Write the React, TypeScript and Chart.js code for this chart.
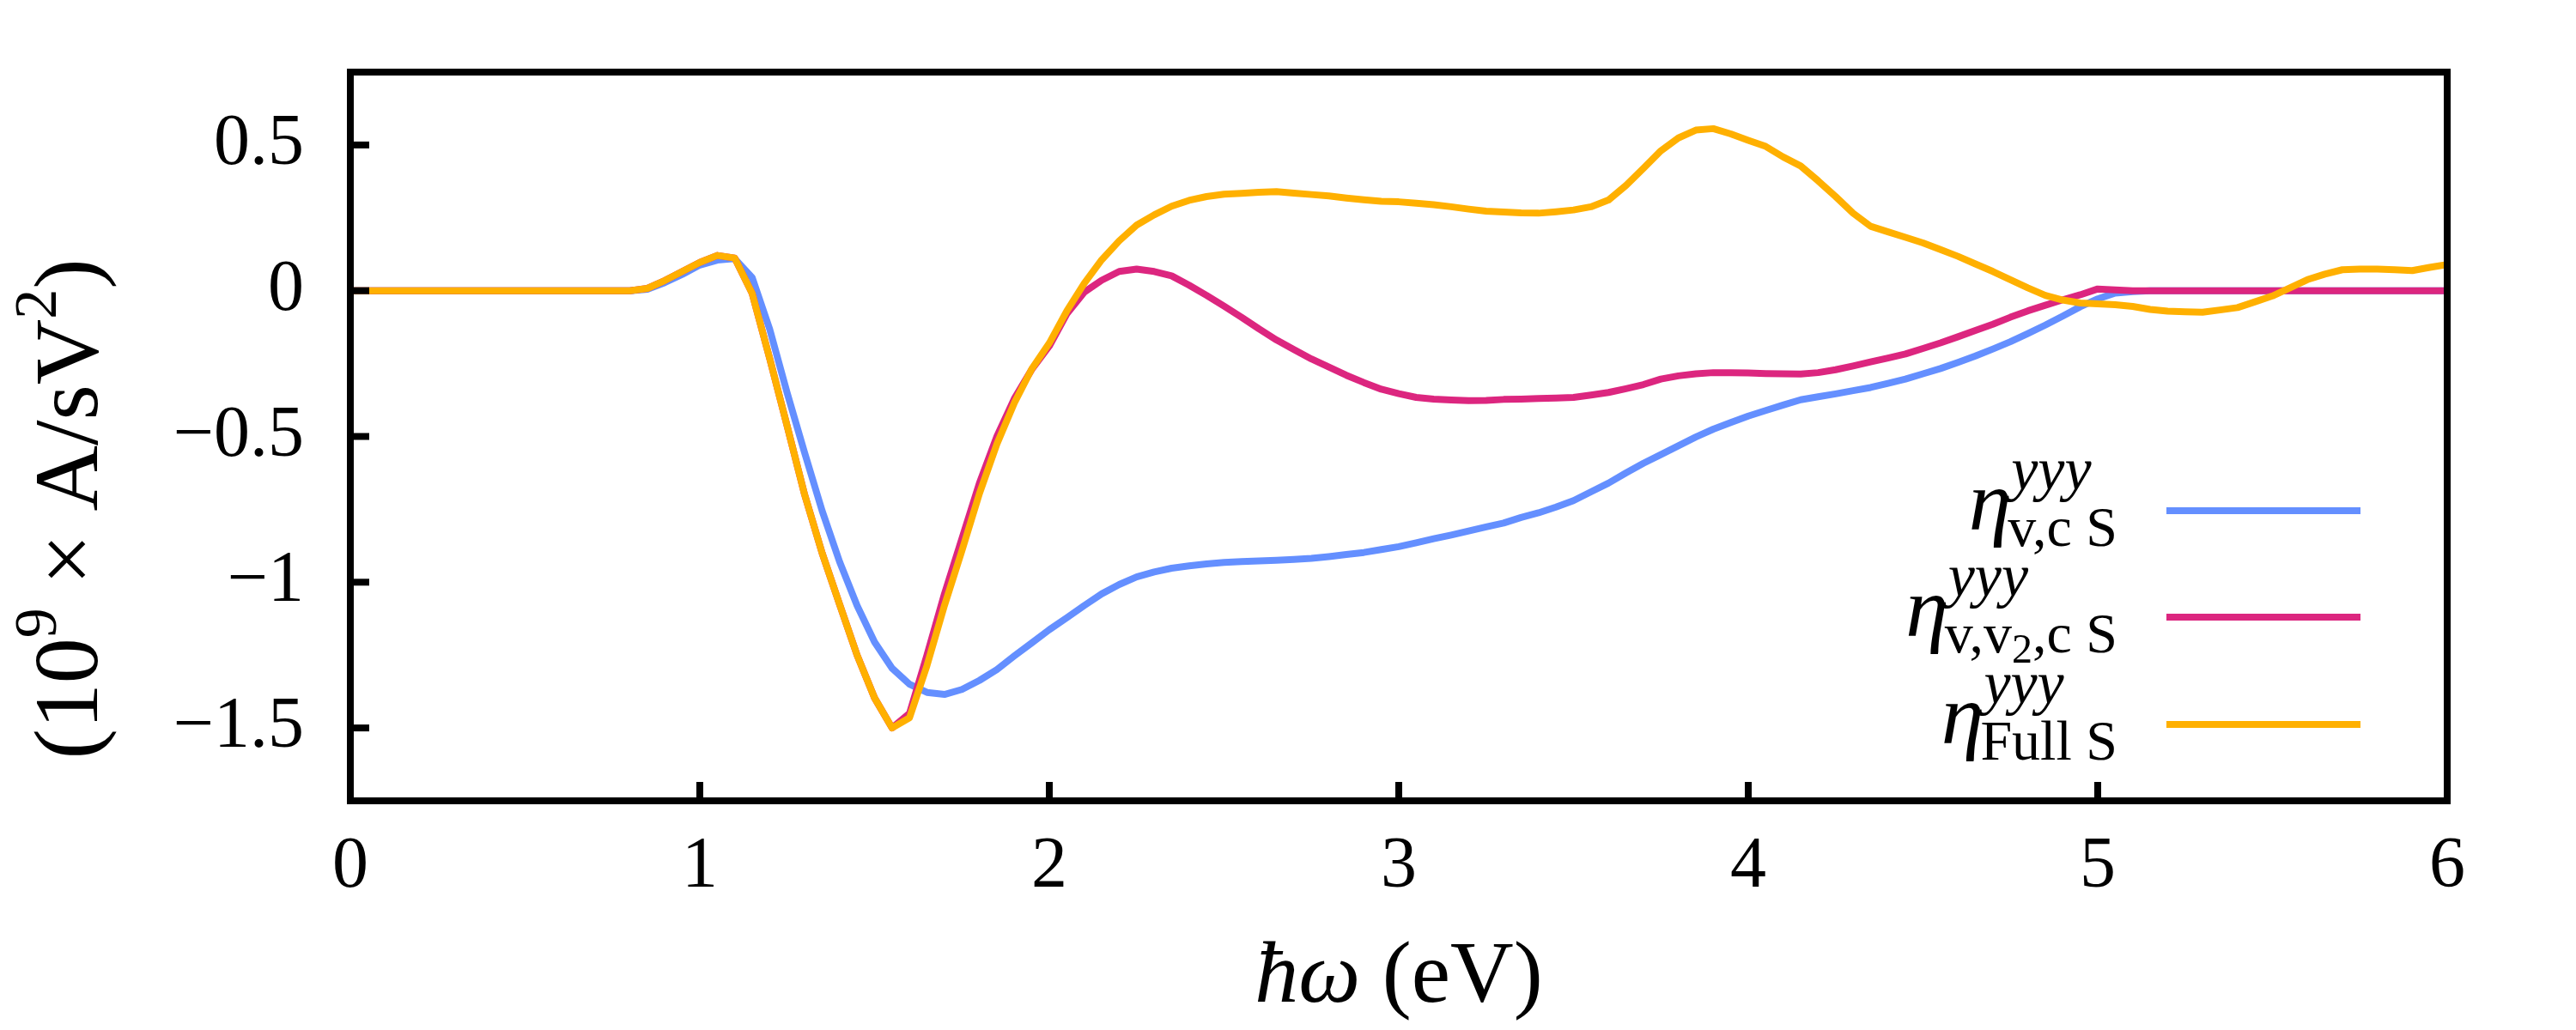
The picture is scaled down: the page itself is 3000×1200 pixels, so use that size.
import { useEffect, useRef } from "react";
import { Chart, registerables } from "chart.js";

Chart.register(...registerables);

const FONT = '"Liberation Serif", "DejaVu Serif", serif';

// photon energy (eV)
const energies = [
  0, 0.05, 0.1, 0.15, 0.2, 0.25, 0.3, 0.35, 0.4, 0.45,
  0.5, 0.55, 0.6, 0.65, 0.7, 0.75, 0.8, 0.85, 0.9, 0.95,
  1, 1.05, 1.1, 1.15, 1.2, 1.25, 1.3, 1.35, 1.4, 1.45,
  1.5, 1.55, 1.6, 1.65, 1.7, 1.75, 1.8, 1.85, 1.9, 1.95,
  2, 2.05, 2.1, 2.15, 2.2, 2.25, 2.3, 2.35, 2.4, 2.45,
  2.5, 2.55, 2.6, 2.65, 2.7, 2.75, 2.8, 2.85, 2.9, 2.95,
  3, 3.05, 3.1, 3.15, 3.2, 3.25, 3.3, 3.35, 3.4, 3.45,
  3.5, 3.55, 3.6, 3.65, 3.7, 3.75, 3.8, 3.85, 3.9, 3.95,
  4, 4.05, 4.1, 4.15, 4.2, 4.25, 4.3, 4.35, 4.4, 4.45,
  4.5, 4.55, 4.6, 4.65, 4.7, 4.75, 4.8, 4.85, 4.9, 4.95,
  5, 5.05, 5.1, 5.15, 5.2, 5.25, 5.3, 5.35, 5.4, 5.45,
  5.5, 5.55, 5.6, 5.65, 5.7, 5.75, 5.8, 5.85, 5.9, 5.95,
  6,
];

// eta^yyy_{v,c S}
const etaVC = [
  0, 0, 0, 0, 0, 0, 0, 0, 0, 0,
  0, 0, 0, 0, 0, 0, 0, 0.005, 0.028, 0.056,
  0.088, 0.105, 0.11, 0.045, -0.132, -0.351, -0.556, -0.755, -0.93, -1.08,
  -1.205, -1.295, -1.35, -1.378, -1.385, -1.368, -1.337, -1.3, -1.253, -1.208,
  -1.163, -1.122, -1.08, -1.04, -1.008, -0.982, -0.965, -0.952, -0.944, -0.937,
  -0.932, -0.929, -0.927, -0.925, -0.922, -0.918, -0.912, -0.905, -0.898, -0.888,
  -0.878, -0.865, -0.851, -0.838, -0.824, -0.81, -0.797, -0.778, -0.762, -0.742,
  -0.72, -0.69, -0.66, -0.625, -0.592, -0.562, -0.532, -0.502, -0.475, -0.452,
  -0.43, -0.411, -0.392, -0.374, -0.364, -0.354, -0.343, -0.332, -0.318, -0.303,
  -0.285, -0.267, -0.246, -0.224, -0.2, -0.175, -0.147, -0.118, -0.087, -0.055,
  -0.028, -0.008, -0.003, 0, 0, 0, 0, 0, 0, 0,
  0, 0, 0, 0, 0, 0, 0, 0, 0, 0,
  0,
];

// eta^yyy_{v,v2,c S}
const etaVV2C = [
  0, 0, 0, 0, 0, 0, 0, 0, 0, 0,
  0, 0, 0, 0, 0, 0, 0, 0.008, 0.035, 0.066,
  0.097, 0.121, 0.112, -0.01, -0.233, -0.465, -0.7, -0.9, -1.076, -1.25,
  -1.397, -1.5, -1.45, -1.25, -1.04, -0.85, -0.66, -0.5, -0.37, -0.27,
  -0.19, -0.08, -0.005, 0.036, 0.066, 0.074, 0.066, 0.051, 0.019, -0.016,
  -0.053, -0.091, -0.131, -0.169, -0.202, -0.234, -0.262, -0.29, -0.315, -0.338,
  -0.353, -0.366, -0.372, -0.375, -0.377, -0.376, -0.373, -0.372, -0.37, -0.368,
  -0.366, -0.358, -0.349, -0.336, -0.322, -0.303, -0.292, -0.285, -0.281, -0.281,
  -0.282, -0.284, -0.285, -0.286, -0.281, -0.271, -0.258, -0.244, -0.231, -0.217,
  -0.198, -0.179, -0.158, -0.136, -0.115, -0.091, -0.069, -0.05, -0.031, -0.014,
  0.006, 0.003, 0, 0, 0, 0, 0, 0, 0, 0,
  0, 0, 0, 0, 0, 0, 0, 0, 0, 0,
  0,
];

// eta^yyy_{Full S}
const etaFull = [
  0, 0, 0, 0, 0, 0, 0, 0, 0, 0,
  0, 0, 0, 0, 0, 0, 0, 0.008, 0.035, 0.066,
  0.097, 0.121, 0.112, -0.01, -0.233, -0.465, -0.7, -0.9, -1.076, -1.25,
  -1.397, -1.5, -1.465, -1.286, -1.08, -0.892, -0.696, -0.526, -0.385, -0.268,
  -0.18, -0.07, 0.025, 0.106, 0.171, 0.225, 0.26, 0.29, 0.31, 0.323,
  0.331, 0.334, 0.338, 0.34, 0.335, 0.33, 0.325, 0.318, 0.312, 0.307,
  0.305, 0.3, 0.295, 0.288, 0.28, 0.273, 0.27, 0.267, 0.266, 0.271,
  0.277, 0.288, 0.311, 0.361, 0.42, 0.48, 0.524, 0.551, 0.556, 0.538,
  0.516, 0.495, 0.459, 0.428, 0.377, 0.323, 0.266, 0.221, 0.202, 0.183,
  0.164, 0.141, 0.118, 0.092, 0.066, 0.038, 0.01, -0.016, -0.032, -0.042,
  -0.045, -0.048, -0.054, -0.064, -0.07, -0.072, -0.074, -0.066, -0.058, -0.038,
  -0.018, 0.01, 0.038, 0.057, 0.072, 0.074, 0.074, 0.072, 0.069, 0.08,
  0.09,
];

const xTicks = [0, 1, 2, 3, 4, 5, 6];
const yTicks = [-1.5, -1, -0.5, 0, 0.5];

const colors = ["#648FFF", "#DC267F", "#FFB000"];

type Seg = { text: string; font: string; dy?: number };

// legend: subscript pieces per series
const legendSubs: Seg[][] = [
  [{ text: "v,c S", font: `66px ${FONT}` }],
  [
    { text: "v,v", font: `66px ${FONT}` },
    { text: "2", font: `48px ${FONT}`, dy: 12 },
    { text: ",c S", font: `66px ${FONT}` },
  ],
  [{ text: "Full S", font: `66px ${FONT}` }],
];

function segWidth(ctx: CanvasRenderingContext2D, segs: Seg[]) {
  let w = 0;
  for (const s of segs) {
    ctx.font = s.font;
    w += ctx.measureText(s.text).width;
  }
  return w;
}

function drawSegs(ctx: CanvasRenderingContext2D, segs: Seg[], x: number, y: number) {
  let cx = x;
  ctx.textAlign = "left";
  for (const s of segs) {
    ctx.font = s.font;
    ctx.fillText(s.text, cx, y + (s.dy || 0));
    cx += ctx.measureText(s.text).width;
  }
}

const framePlugin = {
  id: "frame",
  afterDatasetsDraw(chart: any) {
    const { ctx, chartArea, scales } = chart;
    const { left, right, top, bottom } = chartArea;
    ctx.save();
    ctx.strokeStyle = "#000";
    ctx.fillStyle = "#000";
    ctx.lineWidth = 8;
    ctx.lineCap = "butt";

    // inward ticks
    yTicks.forEach((v) => {
      const py = scales.y.getPixelForValue(v);
      ctx.beginPath();
      ctx.moveTo(left, py);
      ctx.lineTo(left + 22, py);
      ctx.stroke();
    });
    xTicks.forEach((v) => {
      const px = scales.x.getPixelForValue(v);
      ctx.beginPath();
      ctx.moveTo(px, bottom);
      ctx.lineTo(px, bottom - 22);
      ctx.stroke();
    });
    ctx.lineJoin = "miter";
    ctx.strokeRect(left, top, right - left, bottom - top);

    // legend
    const rowOffsets = [338, 214, 89];
    const textRight = right - 384;
    ctx.textBaseline = "alphabetic";
    rowOffsets.forEach((off, i) => {
      const ly = bottom - off;
      ctx.strokeStyle = colors[i];
      ctx.beginPath();
      ctx.moveTo(right - 327, ly);
      ctx.lineTo(right - 101, ly);
      ctx.stroke();

      const sup: Seg[] = [{ text: "yyy", font: `italic 70px ${FONT}` }];
      const sub = legendSubs[i];
      const w = Math.max(segWidth(ctx, sup), segWidth(ctx, sub));
      const sx = textRight - w;
      ctx.fillStyle = "#000";
      ctx.font = `italic 100px ${FONT}`;
      ctx.textAlign = "right";
      ctx.fillText("η", sx + 4, ly + 22);
      drawSegs(ctx, sup, sx + 4, ly - 25);
      drawSegs(ctx, sub, sx, ly + 41);
    });

    // axis titles
    ctx.fillStyle = "#000";
    const xTitle: Seg[] = [
      { text: "ħω", font: `italic 102px ${FONT}` },
      { text: " (eV)", font: `102px ${FONT}` },
    ];
    const xw = segWidth(ctx, xTitle);
    ctx.textBaseline = "alphabetic";
    drawSegs(ctx, xTitle, (left + right) / 2 - xw / 2, 1167);

    const yTitle: Seg[] = [
      { text: "(10", font: `106px ${FONT}` },
      { text: "9", font: `70px ${FONT}`, dy: -48 },
      { text: " × A/sV", font: `106px ${FONT}` },
      { text: "2", font: `70px ${FONT}`, dy: -48 },
      { text: ")", font: `106px ${FONT}` },
    ];
    const yw = segWidth(ctx, yTitle);
    ctx.translate(113, 593);
    ctx.rotate(-Math.PI / 2);
    drawSegs(ctx, yTitle, -yw / 2, 0);
    ctx.restore();
  },
};

export default function App() {
  const canvasRef = useRef<HTMLCanvasElement>(null);
  const chartRef = useRef<Chart | null>(null);

  useEffect(() => {
    document.body.style.margin = "0";
    if (!canvasRef.current) return;
    if (chartRef.current) chartRef.current.destroy();

    const series = [etaVC, etaVV2C, etaFull];
    chartRef.current = new Chart(canvasRef.current, {
      type: "line",
      data: {
        datasets: series.map((vals, i) => ({
          label: ["vc", "vv2c", "full"][i],
          data: energies.map((x, j) => ({ x, y: vals[j] })),
          borderColor: colors[i],
          borderWidth: 8,
          pointRadius: 0,
          tension: 0,
          borderJoinStyle: "round" as const,
          fill: false,
          order: 2 - i, // orange on top, blue at the back
        })),
      },
      options: {
        animation: false,
        responsive: true,
        maintainAspectRatio: false,
        devicePixelRatio: 1,
        layout: { padding: { top: 84, right: 150, left: 0, bottom: 0 } },
        plugins: {
          legend: { display: false },
          tooltip: { enabled: false },
        },
        scales: {
          x: {
            type: "linear",
            min: 0,
            max: 6,
            grid: { display: false, drawTicks: false },
            border: { display: false },
            afterBuildTicks: (scale: any) => {
              scale.ticks = xTicks.map((v) => ({ value: v }));
            },
            afterFit: (scale: any) => {
              scale.height = 267;
              scale.paddingLeft = 0;
              scale.paddingRight = 0;
            },
            ticks: {
              padding: 28,
              color: "#000",
              font: { family: FONT, size: 84 },
              maxRotation: 0,
              callback: (v: any) => String(v),
            },
          },
          y: {
            type: "linear",
            min: -1.75,
            max: 0.75,
            grid: { display: false, drawTicks: false },
            border: { display: false },
            afterBuildTicks: (scale: any) => {
              scale.ticks = yTicks.map((v) => ({ value: v }));
            },
            afterFit: (scale: any) => {
              // the plot box is fixed; drop the label overhang padding
              scale.width = 408;
              scale.paddingTop = 0;
              scale.paddingBottom = 0;
            },
            ticks: {
              padding: 54,
              color: "#000",
              font: { family: FONT, size: 84 },
              callback: (v: any) => String(v).replace("-", "\u2212"),
            },
          },
        },
      },
      plugins: [framePlugin],
    });

    return () => {
      if (chartRef.current) {
        chartRef.current.destroy();
        chartRef.current = null;
      }
    };
  }, []);

  return (
    <div style={{ position: "relative", width: "3000px", height: "1200px", background: "#fff" }}>
      <canvas ref={canvasRef}></canvas>
    </div>
  );
}
